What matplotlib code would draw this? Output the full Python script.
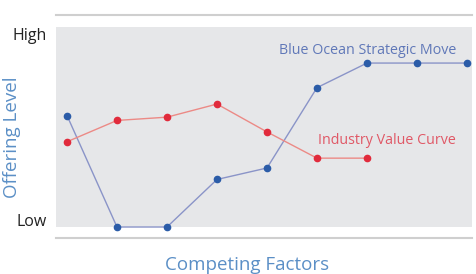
import matplotlib.pyplot as plt

# Data (0 = Low, 10 = High-ish scale)
factors = list(range(9))
blue_move = [6.8, 0.0, 0.0, 2.9, 3.6, 8.5, 10.0, 10.0, 10.0]
industry = [5.2, 6.5, 6.7, 7.5, 5.8, 4.2, 4.2]
level_ticks = [0.4, 11.8]
level_labels = ["Low", "High"]

plt.rcParams['font.family'] = ['Open Sans', 'DejaVu Sans']

fig = plt.figure(figsize=(4.77, 2.74), dpi=100)
ax = fig.add_axes([0.1174, 0.1715, 0.8721, 0.7300])
ax.set_facecolor('#e6e7e9')

ax.plot(factors, blue_move, color='#8a94c8', linewidth=1.0, zorder=2, clip_on=False)
ax.plot(factors, blue_move, 'o', color='#2b5ca8', markersize=4.5, zorder=3, clip_on=False)
ax.plot(factors[:len(industry)], industry, color='#ec8a86', linewidth=1.0, zorder=2, clip_on=False)
ax.plot(factors[:len(industry)], industry, 'o', color='#e12b3c', markersize=4.5, zorder=3, clip_on=False)

ax.text(7.78, 10.75, "Blue Ocean Strategic Move", color='#6078b8', fontsize=10.3,
        fontweight='medium', ha='right', va='center')
ax.text(7.78, 5.3, "Industry Value Curve", color='#e05866', fontsize=10.3,
        fontweight='medium', ha='right', va='center')

ax.set_xlim(-0.22, 8.1)
ax.set_ylim(0, 12.2)
ax.set_xticks([])
ax.set_yticks(level_ticks)
ax.set_yticklabels(level_labels, fontsize=11.5, color='#222222')
ax.tick_params(axis='y', length=0, pad=7)

for side in ['left', 'right']:
    ax.spines[side].set_visible(False)
ax.spines['top'].set_position(('outward', 8.6))
ax.spines['bottom'].set_position(('outward', 7.9))
for side in ['top', 'bottom']:
    ax.spines[side].set_color('#cfcfcf')
    ax.spines[side].set_linewidth(1.5)

fig.text(0.025, 0.50, "Offering Level", rotation=90, color='#5b8fc6',
         fontsize=13.5, ha='center', va='center')
fig.text(0.518, 0.033, "Competing Factors", color='#5b8fc6',
         fontsize=13.5, ha='center', va='center')

fig.savefig("out.png", dpi=100)
